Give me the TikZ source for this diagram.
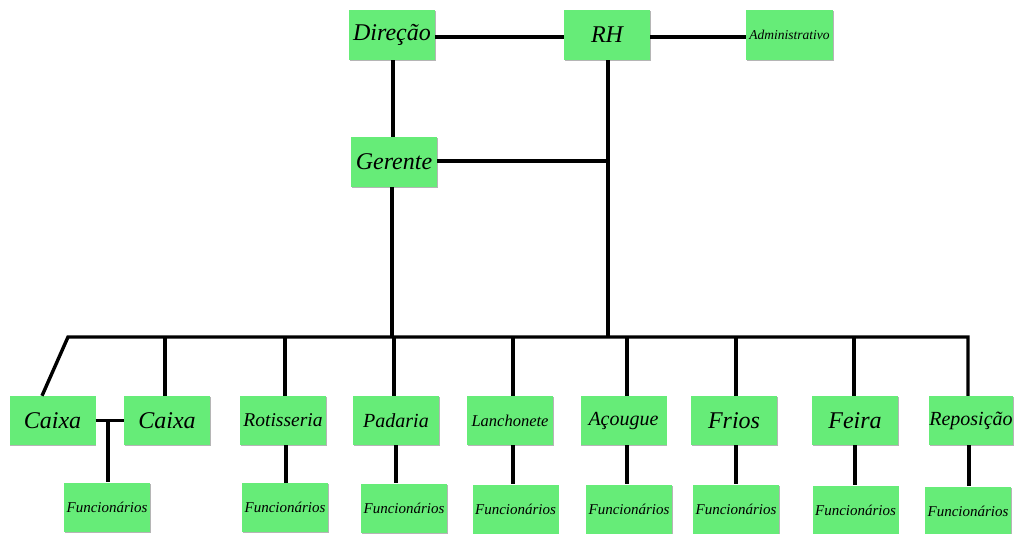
\documentclass[tikz,border=0pt]{standalone}
\usepackage{fontspec}
\setmainfont{Liberation Serif}
\usetikzlibrary{shadows}
\definecolor{boxgreen}{RGB}{102,236,120}
\definecolor{shadowgray}{RGB}{150,150,150}
\begin{document}
\begin{tikzpicture}[x=1pt,y=-1pt,
  box/.style={fill=boxgreen, draw=none, minimum width=86pt, minimum height=50pt, inner sep=0pt,
    font=\itshape, drop shadow={shadow xshift=0.6pt, shadow yshift=-1.4pt, fill=shadowgray, opacity=0.7}},
  conn/.style={line width=3.4pt, black}]
\useasboundingbox (0,0) rectangle (1014,534);
% top
\node[box, font=\itshape\fontsize{24}{28}\selectfont] (dir) at (392,35) {Direção};
\node[box, font=\itshape\fontsize{24}{28}\selectfont] (rh) at (607,35) {RH};
\node[box, minimum width=87pt, font=\itshape\fontsize{13.5}{16}\selectfont] (adm) at (789.5,35) {Administrativo};
\node[box, font=\itshape\fontsize{24}{28}\selectfont] (ger) at (394,162) {Gerente};
% departments
\node[box, minimum height=49pt, font=\itshape\fontsize{24}{28}\selectfont] (cx1) at (52.5,420.5) {Caixa};
\node[box, minimum height=49pt, font=\itshape\fontsize{24}{28}\selectfont] (cx2) at (167,420.5) {Caixa};
\node[box, minimum height=49pt, font=\itshape\fontsize{19.5}{23}\selectfont] (rot) at (283,420.5) {Rotisseria};
\node[box, minimum height=49pt, font=\itshape\fontsize{20}{24}\selectfont] (pad) at (396,420.5) {Padaria};
\node[box, minimum height=49pt, font=\itshape\fontsize{16.5}{20}\selectfont] (lan) at (510,420.5) {Lanchonete};
\node[box, minimum height=49pt, text height=14pt, text depth=5pt, font=\itshape\fontsize{20}{24}\selectfont] (aco) at (623.5,420.5) {Açougue};
\node[box, minimum height=49pt, font=\itshape\fontsize{24}{28}\selectfont] (fri) at (734,420.5) {Frios};
\node[box, minimum height=49pt, font=\itshape\fontsize{24}{28}\selectfont] (fei) at (855,420.5) {Feira};
\node[box, minimum height=49pt, minimum width=84pt, text height=14pt, text depth=5pt, font=\itshape\fontsize{20}{24}\selectfont] (rep) at (971,420.5) {Reposição};
% staff
\tikzset{staff/.style={box, minimum height=49pt, font=\itshape\fontsize{15}{18}\selectfont}}
\node[staff] (f1) at (107,507) {Funcionários};
\node[staff] (f2) at (285,507.5) {Funcionários};
\node[staff] (f3) at (404,508) {Funcionários};
\node[staff] (f4) at (515.5,509) {Funcionários};
\node[staff] (f5) at (629,509) {Funcionários};
\node[staff] (f6) at (736,509) {Funcionários};
\node[staff] (f7) at (855.5,510) {Funcionários};
\node[staff] (f8) at (968,511) {Funcionários};
% coordinates
\coordinate (busL) at (68,337);
\coordinate (busR) at (968,337);
\coordinate (busy) at (0,337);
\coordinate (rhx) at (608,0);
\coordinate (jn) at (108,420);
% connectors
\draw[conn] ([yshift=-2pt]dir.east) -- ([yshift=-2pt]rh.west);
\draw[conn] ([yshift=-2pt]rh.east) -- ([yshift=-2pt]adm.west);
\draw[conn] ([xshift=1pt]dir.south) -- ([xshift=1pt]dir.south |- ger.north);
\draw[conn] (rh.south -| rhx) -- (rhx |- busy);
\draw[conn] ([yshift=1pt]ger.east) -- ([yshift=1pt]ger.east -| rhx);
\draw[conn] ([xshift=-2pt]ger.south) -- ([xshift=-2pt]ger.south |- busy);
\draw[conn, line join=miter] ([xshift=-10.5pt]cx1.north) -- (busL) -- (busR) -- (rep.north -| busR);
\draw[conn] ([xshift=-2pt]cx2.north) -- ([xshift=-2pt]cx2.north |- busy);
\draw[conn] ([xshift=2pt]rot.north) -- ([xshift=2pt]rot.north |- busy);
\draw[conn] ([xshift=-2pt]pad.north) -- ([xshift=-2pt]pad.north |- busy);
\draw[conn] ([xshift=3pt]lan.north) -- ([xshift=3pt]lan.north |- busy);
\draw[conn] ([xshift=3.5pt]aco.north) -- ([xshift=3.5pt]aco.north |- busy);
\draw[conn] ([xshift=2pt]fri.north) -- ([xshift=2pt]fri.north |- busy);
\draw[conn] ([xshift=-1pt]fei.north) -- ([xshift=-1pt]fei.north |- busy);
\draw[conn] (cx1.east) -- (cx2.west);
\draw[conn] (jn) -- (jn |- f1.north);
\draw[conn] ([xshift=3pt]rot.south) -- ([xshift=3pt]rot.south |- f2.north);
\draw[conn] (pad.south) -- (pad.south |- f3.north);
\draw[conn] ([xshift=3pt]lan.south) -- ([xshift=3pt]lan.south |- f4.north);
\draw[conn] ([xshift=3.5pt]aco.south) -- ([xshift=3.5pt]aco.south |- f5.north);
\draw[conn] ([xshift=2pt]fri.south) -- ([xshift=2pt]fri.south |- f6.north);
\draw[conn] (fei.south) -- (fei.south |- f7.north);
\draw[conn] ([xshift=-2pt]rep.south) -- ([xshift=-2pt]rep.south |- f8.north);
\end{tikzpicture}
\end{document}
